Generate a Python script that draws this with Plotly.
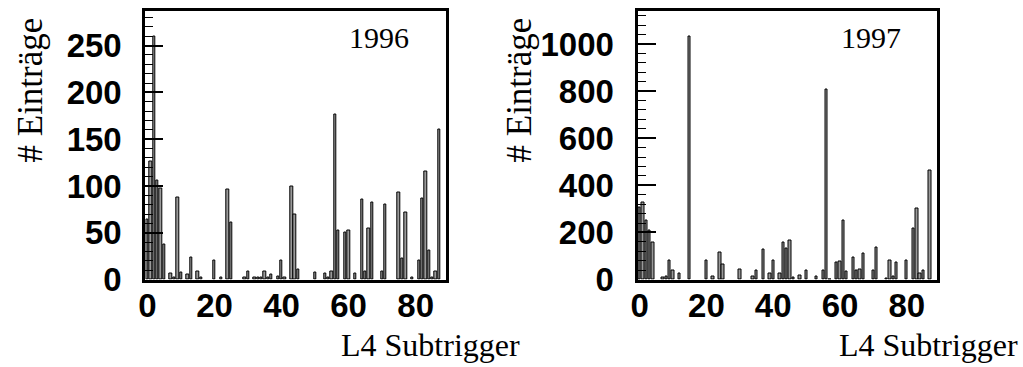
import plotly.graph_objects as go

# L4 subtrigger rates, 1996
bins_1996 = [0, 1, 2, 3, 4, 5, 7, 8, 9, 10, 12, 13, 15, 16, 20, 22, 24, 25, 29, 30,
             32, 33, 34, 35, 36, 37, 39, 40, 41, 43, 44, 45, 50, 53, 54, 55, 56, 57,
             59, 60, 62, 64, 65, 66, 67, 70, 71, 75, 76, 77, 79, 81, 82, 83, 84, 85,
             86, 87]
counts_1996 = [64, 126, 260, 106, 97, 38, 7, 2, 88, 8, 5, 24, 9, 2, 20, 2, 96, 61, 2, 9,
               2, 2, 2, 9, 2, 5, 3, 20, 2, 99, 70, 11, 8, 7, 2, 9, 176, 52,
               50, 52, 6, 86, 9, 55, 82, 9, 80, 93, 23, 72, 2, 20, 87, 116, 31, 2,
               9, 160]

# L4 subtrigger rates, 1997
bins_1997 = [0, 1, 2, 3, 4, 7, 8, 9, 10, 12, 15, 20, 22, 24, 25, 30, 34, 35, 37, 39,
             40, 42, 43, 44, 45, 46, 48, 50, 53, 55, 56, 57, 59, 60, 61, 62, 64, 65,
             66, 67, 70, 71, 74, 75, 76, 77, 80, 82, 83, 84, 85, 87]
counts_1997 = [305, 328, 250, 210, 157, 8, 12, 83, 40, 27, 1031, 80, 12, 114, 64, 41, 12, 40, 129, 24,
               80, 24, 159, 133, 167, 10, 18, 40, 15, 40, 808, 2, 73, 76, 249, 36, 95, 38,
               44, 112, 40, 135, 3, 80, 12, 73, 79, 216, 303, 27, 40, 465]

W, H = 1023, 367
SERIF = "Liberation Serif"
SANS = "Liberation Sans"

fig = go.Figure()

bar_style = dict(width=0.72, marker=dict(color="#9a9a9a", line=dict(color="black", width=1)),
                 showlegend=False)
fig.add_trace(go.Bar(x=bins_1996, y=counts_1996, xaxis="x", yaxis="y", **bar_style))
fig.add_trace(go.Bar(x=bins_1997, y=counts_1997, xaxis="x2", yaxis="y2", **bar_style))

y_bottom = 1 - 279.6 / H
y_top = 1 - 10.5 / H

tick_font = dict(family=SANS, size=33, color="black", weight="bold")

xaxis_common = dict(
    range=[-0.65, 88.9], showgrid=False, zeroline=False, automargin=False,
    showline=True, linecolor="black", linewidth=3, mirror=True,
    ticks="", tickvals=[0, 20, 40, 60, 80], ticklabelstandoff=-5,
    tickfont=tick_font,
)
yaxis_common = dict(
    showgrid=False, zeroline=False, automargin=False,
    showline=True, linecolor="black", linewidth=3, mirror=True,
    ticks="inside", ticklen=18, tickwidth=1.5, tickcolor="black",
    ticklabelstandoff=14,
    tickfont=tick_font,
    domain=[y_bottom, y_top],
)

fig.update_layout(
    template="none",
    width=W, height=H,
    margin=dict(l=0, r=0, t=0, b=0, pad=0),
    paper_bgcolor="white", plot_bgcolor="white",
    bargap=0,
    xaxis=dict(domain=[145.3 / W, 445.5 / W], anchor="y", **xaxis_common),
    yaxis=dict(anchor="x", range=[0, 287.5], dtick=50,
               minor=dict(ticks="inside", ticklen=8, tickwidth=1, tickcolor="black", dtick=10),
               **yaxis_common),
    xaxis2=dict(domain=[637.5 / W, 936.5 / W], anchor="y2", **xaxis_common),
    yaxis2=dict(anchor="x2", range=[0, 1142], dtick=200,
                minor=dict(ticks="inside", ticklen=8, tickwidth=1, tickcolor="black", dtick=40),
                **yaxis_common),
)

def label(text, x_px, y_px, size, xanchor="center", yanchor="middle", angle=0):
    fig.add_annotation(text=text, xref="paper", yref="paper",
                       x=x_px / W, y=1 - y_px / H, xanchor=xanchor, yanchor=yanchor,
                       textangle=angle, showarrow=False,
                       font=dict(family=SERIF, size=size, color="black"))

label("# Einträge", 30, 16, 35, yanchor="top", angle=-90)
label("# Einträge", 519, 16, 35, yanchor="top", angle=-90)
label("L4 Subtrigger", 522, 345, 32, xanchor="right")
label("L4 Subtrigger", 1020, 345, 32, xanchor="right")
label("1996", 379, 38, 30)
label("1997", 871, 38, 30)

fig.write_html("out.html")
